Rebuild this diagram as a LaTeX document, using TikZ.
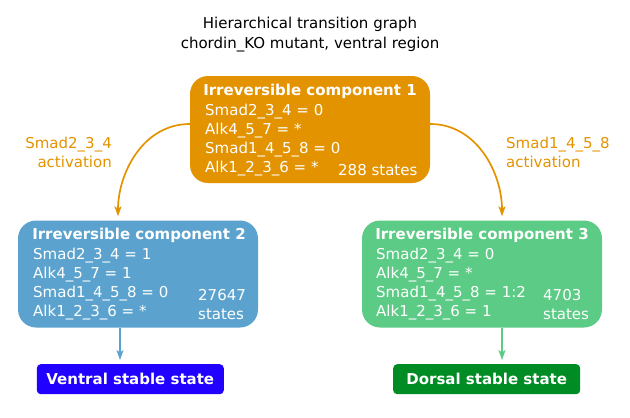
\documentclass[tikz,border=0pt]{standalone}
\usepackage{fontspec}
\setmainfont{DejaVu Sans}
\usetikzlibrary{arrows.meta}

\definecolor{compone}{RGB}{227,147,0}
\definecolor{comptwo}{RGB}{91,163,206}
\definecolor{compthree}{RGB}{92,203,133}
\definecolor{ventralc}{RGB}{34,0,255}
\definecolor{dorsalc}{RGB}{0,140,36}

\tikzset{
  compbox/.style={rounded corners=18pt,minimum width=240pt,minimum height=107pt,inner sep=0pt},
  stablebox/.style={rounded corners=4pt,minimum width=187pt,minimum height=30pt,inner sep=0pt,
    text=white,font=\bfseries\fontsize{15}{18}\selectfont},
  comptitle/.style={anchor=base,inner sep=0pt,text=white,font=\bfseries\fontsize{15}{18}\selectfont},
  comptext/.style={anchor=base west,align=left,inner sep=0pt,text=white,font=\fontsize{15}{19}\selectfont},
  lbl/.style={inner sep=0pt,text=compone,font=\fontsize{15}{19}\selectfont},
  trans/.style={line width=1.7pt,-{Stealth[length=10pt,width=7pt,inset=2.5pt]},shorten >=4pt}
}

\begin{document}
\begin{tikzpicture}[x=1pt,y=-1pt]
  \useasboundingbox (0,0) rectangle (630,418);

  % title (base = last line)
  \node[anchor=base,align=center,inner sep=0pt,font=\fontsize{15}{20}\selectfont] (title) at (310,48)
    {Hierarchical transition graph\\chordin\_KO mutant, ventral region};

  % components
  \node[compbox,fill=compone] (comp1) at (310,129.5) {};
  \node[compbox,fill=comptwo] (comp2) at (138,274) {};
  \node[compbox,fill=compthree] (comp3) at (482,274) {};

  \node[comptitle] (c1title) at (310,95) {Irreversible component 1};
  \node[comptext] (c1vars) at (205,172)
    {Smad2\_3\_4 = 0\\Alk4\_5\_7 = *\\Smad1\_4\_5\_8 = 0\\Alk1\_2\_3\_6 = *};
  \node[comptext] (c1states) at (338,175) {288 states};

  \node[comptitle] (c2title) at (139,239.5) {Irreversible component 2};
  \node[comptext] (c2vars) at (33,316)
    {Smad2\_3\_4 = 1\\Alk4\_5\_7 = 1\\Smad1\_4\_5\_8 = 0\\Alk1\_2\_3\_6 = *};
  \node[comptext] (c2states) at (198,319.5) {27647\\states};

  \node[comptitle] (c3title) at (482,239.5) {Irreversible component 3};
  \node[comptext] (c3vars) at (376,316)
    {Smad2\_3\_4 = 0\\Alk4\_5\_7 = *\\Smad1\_4\_5\_8 = 1:2\\Alk1\_2\_3\_6 = 1};
  \node[comptext] (c3states) at (543,319.5) {4703\\states};

  % stable states
  \node[stablebox,fill=ventralc] (ventral) at (130.3,379.2) {Ventral stable state};
  \node[stablebox,fill=dorsalc] (dorsal) at (486.7,379.2) {Dorsal stable state};

  % transitions
  \draw[trans,compone] ([yshift=5.5pt]comp1.west) to[out=180,in=90] ([xshift=-20pt]comp2.north);
  \draw[trans,compone] ([yshift=5.5pt]comp1.east) to[out=0,in=90] ([xshift=20pt]comp3.north);
  \node[lbl,anchor=base east,align=right] (lbl2) at (112,167) {Smad2\_3\_4\\activation};
  \node[lbl,anchor=base west,align=left] (lbl3) at (506,167) {Smad1\_4\_5\_8\\activation};

  \draw[trans,comptwo] ([xshift=-18pt]comp2.south) -- ([xshift=-18pt]comp2.south |- ventral.north);
  \draw[trans,compthree] ([xshift=20pt]comp3.south) -- ([xshift=20pt]comp3.south |- dorsal.north);
\end{tikzpicture}
\end{document}
